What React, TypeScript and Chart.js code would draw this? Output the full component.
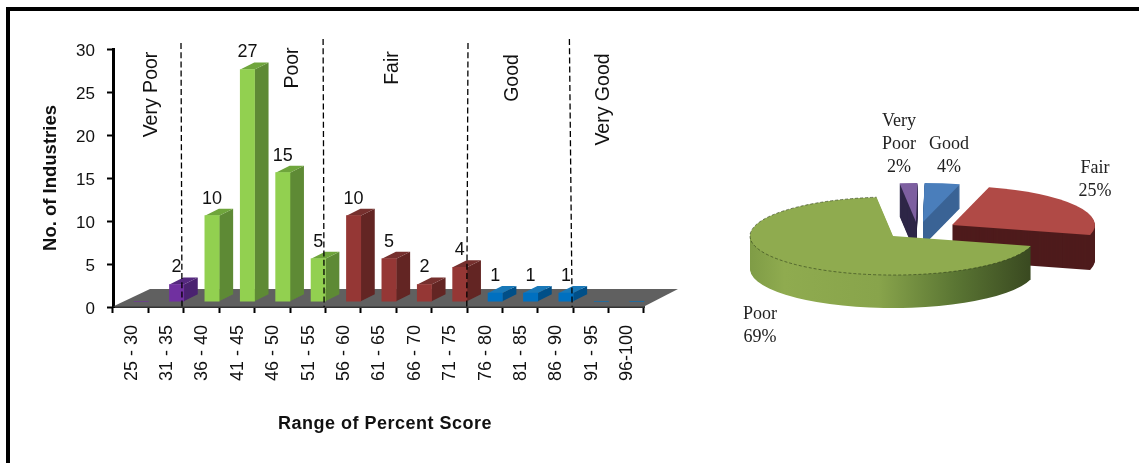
import React, { useEffect, useRef } from "react";
import { Chart, registerables } from "chart.js";

Chart.register(...registerables);

// Distribution of industries over percent-score ranges
const scoreRanges = [
  "25 - 30", "31 - 35", "36 - 40", "41 - 45", "46 - 50", "51 - 55", "56 - 60", "61 - 65",
  "66 - 70", "71 - 75", "76 - 80", "81 - 85", "86 - 90", "91 - 95", "96-100",
];
const industryCounts = [0, 2, 10, 27, 15, 5, 10, 5, 2, 4, 1, 1, 1, 0, 0];
const yTicks = [0, 5, 10, 15, 20, 25, 30];
// Category boundaries at which one rating band gives way to the next
const bandBoundaries = [2, 6, 10, 13];
const bandNames = ["Very Poor", "Poor", "Fair", "Good", "Very Good"];

// Share of industries per rating, clockwise
const ratingNames = ["Poor", "Very Poor", "Good", "Fair"];
const ratingShares = [69, 2, 4, 25];

const SANS = "'Liberation Sans', Arial, sans-serif";
const SERIF = "'Liberation Serif', 'Times New Roman', serif";

const bandFaces = [
  { front: "#7030A0", side: "#4A2270", top: "#55287F" },
  { front: "#92D050", side: "#5E8A35", top: "#6FA53C" },
  { front: "#953735", side: "#632523", top: "#76302E" },
  { front: "#0070C0", side: "#004F88", top: "#1878B8" },
  { front: "#0070C0", side: "#004F88", top: "#1878B8" },
];
const bandOf = (i: number) => bandBoundaries.filter((b) => i >= b).length;

const barShift = { x: 10.5, y: -5.3 };
const barDepth = { x: 14, y: -7 };

// Extruded bars standing on a grey floor, with band separators on top
const barScene = {
  id: "barScene",
  beforeDatasetsDraw(chart: any) {
    const { ctx } = chart;
    const xs = chart.scales.x;
    const ys = chart.scales.y;
    const y0 = ys.getPixelForValue(0);
    ctx.save();
    ctx.fillStyle = "#606060";
    ctx.beginPath();
    ctx.moveTo(xs.left, y0 - 0.5);
    ctx.lineTo(xs.left + 37, y0 - 18);
    ctx.lineTo(xs.right + 34, y0 - 18);
    ctx.lineTo(xs.right, y0 - 0.5);
    ctx.closePath();
    ctx.fill();
    ctx.restore();

    ctx.save();
    ctx.translate(barShift.x, barShift.y);
    chart.getDatasetMeta(0).data.forEach((bar: any, i: number) => {
      if (!industryCounts[i]) return;
      const faces = bandFaces[bandOf(i)];
      const l = bar.x - bar.width / 2;
      const r = bar.x + bar.width / 2;
      ctx.fillStyle = faces.side;
      ctx.beginPath();
      ctx.moveTo(r, bar.y);
      ctx.lineTo(r + barDepth.x, bar.y + barDepth.y);
      ctx.lineTo(r + barDepth.x, bar.base + barDepth.y);
      ctx.lineTo(r, bar.base);
      ctx.closePath();
      ctx.fill();
      ctx.fillStyle = faces.top;
      ctx.beginPath();
      ctx.moveTo(l, bar.y);
      ctx.lineTo(l + barDepth.x, bar.y + barDepth.y);
      ctx.lineTo(r + barDepth.x, bar.y + barDepth.y);
      ctx.lineTo(r, bar.y);
      ctx.closePath();
      ctx.fill();
    });
  },
  afterDatasetsDraw(chart: any) {
    const { ctx } = chart;
    const xs = chart.scales.x;
    const ys = chart.scales.y;
    ctx.fillStyle = "#111";
    ctx.font = `18px ${SANS}`;
    ctx.textAlign = "center";
    ctx.textBaseline = "middle";
    chart.getDatasetMeta(0).data.forEach((bar: any, i: number) => {
      if (industryCounts[i]) ctx.fillText(String(industryCounts[i]), bar.x, bar.y - 17);
    });
    ctx.restore();

    // Dashed separators between rating bands, very slightly off vertical
    const bottom = ys.getPixelForValue(0);
    const tops = [43, 39, 43, 39];
    const lean = [
      [-2.8, -1.8], [-2.3, -1.3], [1, -0.2], [-3.8, -1.1],
    ];
    ctx.save();
    ctx.strokeStyle = "#000";
    ctx.lineWidth = 1.3;
    ctx.setLineDash([6, 3.2]);
    bandBoundaries.forEach((b, i) => {
      const x = (xs.getPixelForValue(b - 1) + xs.getPixelForValue(b)) / 2;
      ctx.beginPath();
      ctx.moveTo(x + lean[i][0], tops[i]);
      ctx.lineTo(x + lean[i][1], bottom);
      ctx.stroke();
    });
    ctx.restore();

    // Rotated band names
    const spots = [
      [152, 94.5], [293, 68], [393, 68], [513, 78], [603.5, 99.5],
    ];
    ctx.save();
    ctx.fillStyle = "#111";
    ctx.font = `19.5px ${SANS}`;
    ctx.textAlign = "center";
    ctx.textBaseline = "middle";
    bandNames.forEach((name, i) => {
      ctx.save();
      ctx.translate(spots[i][0], spots[i][1]);
      ctx.rotate(-Math.PI / 2);
      ctx.fillText(name, 0, 0);
      ctx.restore();
    });
    ctx.restore();

    // Category axis caption
    ctx.save();
    ctx.fillStyle = "#111";
    ctx.font = `bold 18px ${SANS}`;
    (ctx as any).letterSpacing = "0.5px";
    ctx.textAlign = "center";
    ctx.textBaseline = "middle";
    ctx.fillText("Range of Percent Score", 385, 424);
    ctx.restore();
  },
};

const sliceLook = [
  { side: "gradient", shift: [0, 0], depth: 33 },
  { side: "#2F2848", shift: [23, -14], depth: 33 },
  { side: "#3A6395", shift: [30, -14], depth: 24 },
  { side: "#4E1B1C", shift: [59, -11], depth: 35 },
];
const drawOrder = [1, 2, 3, 0];
const squash = 0.273;
const pieCaptions = [
  { lines: ["Very", "Poor", "2%"], x: 209, y: 121 },
  { lines: ["Good", "4%"], x: 259, y: 144 },
  { lines: ["Fair", "25%"], x: 405, y: 168 },
  { lines: ["Poor", "69%"], x: 70, y: 314 },
];

// Tilted pie: each wedge keeps the angles the controller computed and gets a stacked side wall
const pieScene = {
  id: "pieScene",
  beforeDatasetDraw(chart: any) {
    const { ctx } = chart;
    const arcs = chart.getDatasetMeta(0).data;
    const wedge = (arc: any, dx: number, dy: number) => {
      const cx = arc.x + dx;
      const cy = arc.y + dy;
      ctx.beginPath();
      ctx.moveTo(cx, cy);
      ctx.ellipse(cx, cy, arc.outerRadius, arc.outerRadius * squash, 0, arc.startAngle, arc.endAngle);
      ctx.closePath();
    };
    drawOrder.forEach((i) => {
      const arc = arcs[i];
      const look = sliceLook[i];
      let side: any = look.side;
      if (side === "gradient") {
        side = ctx.createLinearGradient(arc.x - arc.outerRadius, 0, arc.x + arc.outerRadius, 0);
        side.addColorStop(0, "#7F9C46");
        side.addColorStop(0.12, "#8FAB4F");
        side.addColorStop(0.45, "#88A44B");
        side.addColorStop(0.72, "#5A7533");
        side.addColorStop(1, "#37461F");
      }
      ctx.fillStyle = side;
      for (let d = look.depth; d > 0; d--) {
        wedge(arc, look.shift[0], look.shift[1] + d);
        ctx.fill();
      }
      wedge(arc, look.shift[0], look.shift[1]);
      ctx.fillStyle = arc.options.backgroundColor;
      ctx.fill();
      if (i === 0) {
        ctx.save();
        ctx.strokeStyle = "rgba(45,60,25,0.6)";
        ctx.lineWidth = 1;
        ctx.setLineDash([3, 2]);
        ctx.beginPath();
        ctx.ellipse(arc.x, arc.y, arc.outerRadius, arc.outerRadius * squash, 0, arc.startAngle, arc.endAngle);
        ctx.stroke();
        ctx.restore();
      }
    });
    return false;
  },
  afterDatasetsDraw(chart: any) {
    const { ctx } = chart;
    ctx.save();
    ctx.fillStyle = "#222";
    ctx.font = `18px ${SERIF}`;
    ctx.textAlign = "center";
    ctx.textBaseline = "middle";
    pieCaptions.forEach((c) => {
      c.lines.forEach((line, k) => ctx.fillText(line, c.x, c.y + k * 23));
    });
    ctx.restore();
  },
};

export default function App() {
  const barRef = useRef<HTMLCanvasElement>(null);
  const pieRef = useRef<HTMLCanvasElement>(null);

  useEffect(() => {
    const bars = new Chart(barRef.current!, {
      type: "bar",
      plugins: [barScene],
      data: {
        labels: scoreRanges,
        datasets: [
          {
            label: "No. of Industries",
            data: industryCounts,
            backgroundColor: industryCounts.map((_, i) => bandFaces[bandOf(i)].front),
            barThickness: 14.3,
            clip: false,
          },
        ],
      },
      options: {
        responsive: false,
        animation: false,
        layout: { padding: { top: 49, right: 46, left: 0, bottom: 0 } },
        plugins: { legend: { display: false }, tooltip: { enabled: false } },
        scales: {
          x: {
            afterFit: (s: any) => { s.height = 156; },
            border: { color: "#333", width: 2 },
            grid: { offset: true, drawOnChartArea: false, drawTicks: true, tickLength: 6, tickColor: "#000", tickWidth: 2 },
            ticks: {
              autoSkip: false, minRotation: 90, maxRotation: 90, padding: 12, labelOffset: 1,
              color: "#111", font: { family: SANS, size: 18 },
            },
          },
          y: {
            min: 0, max: 30,
            afterFit: (s: any) => { s.width = 113; },
            afterBuildTicks: (s: any) => { s.ticks = yTicks.map((value) => ({ value })); },
            border: { color: "#000", width: 3 },
            grid: { drawOnChartArea: false, drawTicks: true, tickLength: 6, tickColor: "#000", tickWidth: 2 },
            ticks: { padding: 12, labelOffset: 2.5, color: "#111", font: { family: SANS, size: 17 } },
            title: {
              display: true, text: "No. of Industries", color: "#111",
              font: { family: SANS, size: 18.5, weight: "bold" }, padding: { top: 40, bottom: 0 },
            },
          },
        },
      },
    } as any);

    const pie = new Chart(pieRef.current!, {
      type: "pie",
      plugins: [pieScene],
      data: {
        labels: ratingNames,
        datasets: [
          {
            data: ratingShares,
            backgroundColor: ["#8FAB4F", "#7D5FA0", "#4A7EBB", "#B04A46"],
            borderWidth: 0,
          },
        ],
      },
      options: {
        responsive: false,
        animation: false,
        rotation: 105,
        layout: { padding: { left: 60, right: 103, top: 93, bottom: 84 } },
        plugins: { legend: { display: false }, tooltip: { enabled: false } },
      },
    } as any);

    return () => {
      bars.destroy();
      pie.destroy();
    };
  }, []);

  return (
    <div style={{ position: "absolute", left: 0, top: 0, width: 1139, height: 463, background: "#fff", overflow: "hidden" }}>
      <canvas ref={barRef} width={690} height={463} style={{ position: "absolute", left: 0, top: 0 }} />
      <canvas ref={pieRef} width={449} height={463} style={{ position: "absolute", left: 690, top: 0 }} />
      <div style={{ position: "absolute", left: 6, top: 7, width: 1133, height: 4, background: "#000" }} />
      <div style={{ position: "absolute", left: 6, top: 7, width: 4, height: 456, background: "#000" }} />
    </div>
  );
}
